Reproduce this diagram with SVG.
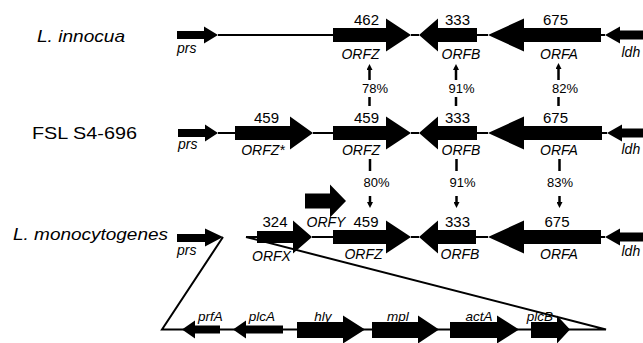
<svg xmlns="http://www.w3.org/2000/svg" width="643" height="343" viewBox="0 0 643 343">
<style>
.g{fill:#000;stroke:none}
.bb{stroke:#000;stroke-width:2;fill:none}
.pc{stroke:#000;stroke-width:2.5;fill:none}
.t{font-family:"Liberation Sans",Arial,sans-serif;fill:#000}
.sp{font-size:16.5px}
.num{font-size:15px;text-anchor:middle}
.lab{font-size:14px;font-style:italic;text-anchor:middle}
.labl{font-size:14px;font-style:italic}
.pct{font-size:13px;text-anchor:middle}
.bl{font-size:13.5px;font-style:italic;text-anchor:middle}
</style>
<defs>
<marker id="ah" markerUnits="userSpaceOnUse" markerWidth="6" markerHeight="6" refX="3" refY="3" orient="auto">
<path d="M0,0 L6,3 L0,6 Z" fill="#000"/>
</marker>
</defs>
<rect width="643" height="343" fill="#fff"/>

<!-- species labels -->
<text class="t sp" x="37" y="42" font-style="italic" textLength="88" lengthAdjust="spacingAndGlyphs">L. innocua</text>
<text class="t sp" x="32" y="139" textLength="105" lengthAdjust="spacingAndGlyphs">FSL S4-696</text>
<text class="t sp" x="13" y="240" font-style="italic" textLength="155" lengthAdjust="spacingAndGlyphs">L. monocytogenes</text>

<!-- connectors -->
<g id="connectors">
<line class="bb" x1="218" y1="35" x2="333" y2="35"/>
<line class="bb" x1="411" y1="35" x2="419" y2="35"/>
<line class="bb" x1="477" y1="35" x2="488" y2="35"/>
<line class="bb" x1="601" y1="35" x2="605" y2="35"/>
<line class="bb" x1="218" y1="133" x2="235" y2="133"/>
<line class="bb" x1="313" y1="133" x2="333" y2="133"/>
<line class="bb" x1="411" y1="133" x2="419" y2="133"/>
<line class="bb" x1="477" y1="133" x2="488" y2="133"/>
<line class="bb" x1="602" y1="133" x2="607" y2="133"/>
<line class="bb" x1="246" y1="237" x2="257" y2="237"/>
<line class="bb" x1="312" y1="237" x2="333" y2="237"/>
<line class="bb" x1="411" y1="237" x2="419" y2="237"/>
<line class="bb" x1="476" y1="237" x2="488" y2="237"/>
<line class="bb" x1="601" y1="237" x2="605" y2="237"/>
<polyline class="bb" points="223,237 162,329.5 606,329.5 246,237"/>
<!-- similarity arrows row1-row2 -->
<line class="pc" x1="369.5" y1="80" x2="369.5" y2="67" marker-end="url(#ah)"/>
<line class="pc" x1="369.5" y1="97" x2="369.5" y2="106"/>
<line class="pc" x1="456" y1="80" x2="456" y2="67" marker-end="url(#ah)"/>
<line class="pc" x1="456" y1="97" x2="456" y2="106"/>
<line class="pc" x1="558.5" y1="80" x2="558.5" y2="66" marker-end="url(#ah)"/>
<line class="pc" x1="558.5" y1="97" x2="558.5" y2="106"/>
<!-- similarity arrows row2-row3 -->
<line class="pc" x1="370" y1="159" x2="370" y2="171"/>
<line class="pc" x1="370" y1="196" x2="370" y2="205" marker-end="url(#ah)"/>
<line class="pc" x1="456.5" y1="159" x2="456.5" y2="171"/>
<line class="pc" x1="456.5" y1="196" x2="456.5" y2="205" marker-end="url(#ah)"/>
<line class="pc" x1="559.5" y1="159" x2="559.5" y2="171"/>
<line class="pc" x1="559.5" y1="196" x2="559.5" y2="205" marker-end="url(#ah)"/>
</g>
<text class="t pct" x="375" y="92.5">78%</text>
<text class="t pct" x="461.5" y="92.5">91%</text>
<text class="t pct" x="565" y="92.5">82%</text>
<text class="t pct" x="376.5" y="187">80%</text>
<text class="t pct" x="462.5" y="187">91%</text>
<text class="t pct" x="560" y="187">83%</text>

<!-- Row 1: L. innocua -->
<g id="r1-prs"><polygon class="g" points="177,31 204,31 204,26.5 218,35 204,43.5 204,39 177,39"/><text class="t labl" x="177" y="53">prs</text></g>
<g id="r1-orfz"><polygon class="g" points="333,28 386,28 386,18.5 411,35 386,51.5 386,42 333,42"/><text class="t num" x="366.5" y="25">462</text><text class="t lab" x="360.5" y="59">ORFZ</text></g>
<g id="r1-orfb"><polygon class="g" points="477,28 438,28 438,18.5 419,35 438,51.5 438,42 477,42"/><text class="t num" x="457.5" y="25">333</text><text class="t lab" x="461" y="59">ORFB</text></g>
<g id="r1-orfa"><polygon class="g" points="601,28 524,28 524,18.5 488,35 524,51.5 524,42 601,42"/><text class="t num" x="555.5" y="25">675</text><text class="t lab" x="559" y="59">ORFA</text></g>
<g id="r1-ldh"><polygon class="g" points="650,30.5 620,30.5 620,26.5 605,35 620,43.5 620,39.5 650,39.5"/><text class="t labl" x="621.5" y="57">ldh</text></g>

<!-- Row 2: FSL S4-696 -->
<g id="r2-prs"><polygon class="g" points="178,129 205,129 205,124.5 218,133 205,141.5 205,137 178,137"/><text class="t labl" x="178" y="149">prs</text></g>
<g id="r2-orfzs"><polygon class="g" points="235,126 290,126 290,116.5 313,133 290,149.5 290,140 235,140"/><text class="t num" x="266.5" y="123">459</text><text class="t lab" x="263" y="155">ORFZ*</text></g>
<g id="r2-orfz"><polygon class="g" points="333,126 386,126 386,116.5 411,133 386,149.5 386,140 333,140"/><text class="t num" x="366.5" y="123">459</text><text class="t lab" x="361" y="155">ORFZ</text></g>
<g id="r2-orfb"><polygon class="g" points="477,126 438,126 438,116.5 419,133 438,149.5 438,140 477,140"/><text class="t num" x="457.5" y="123">333</text><text class="t lab" x="461" y="155">ORFB</text></g>
<g id="r2-orfa"><polygon class="g" points="602,126 524,126 524,116.5 488,133 524,149.5 524,140 602,140"/><text class="t num" x="555.5" y="123">675</text><text class="t lab" x="559" y="155">ORFA</text></g>
<g id="r2-ldh"><polygon class="g" points="650,128.5 622,128.5 622,124.5 607,133 622,141.5 622,137.5 650,137.5"/><text class="t labl" x="621.5" y="154">ldh</text></g>

<!-- Row 3: L. monocytogenes -->
<g id="r3-prs"><polygon class="g" points="177,234 205,234 205,228.5 223,237 205,246.5 205,242 177,242"/><text class="t labl" x="177" y="255">prs</text></g>
<g id="r3-orfx"><polygon class="g" points="257,231 293,231 293,220.5 312,237 293,253.5 293,243 257,243"/><text class="t num" x="275" y="227">324</text><text class="t lab" x="271.5" y="261">ORFX</text></g>
<g id="r3-orfy"><polygon class="g" points="305,193.5 330,193.5 330,184.5 346,201 330,217.5 330,208.5 305,208.5"/><text class="t lab" x="326" y="227">ORFY</text></g>
<g id="r3-orfz"><polygon class="g" points="333,230 386,230 386,220.5 411,237 386,253.5 386,244 333,244"/><text class="t num" x="366" y="227">459</text><text class="t lab" x="363.5" y="259">ORFZ</text></g>
<g id="r3-orfb"><polygon class="g" points="476,230 438,230 438,220.5 419,237 438,253.5 438,244 476,244"/><text class="t num" x="457.5" y="227">333</text><text class="t lab" x="460" y="259">ORFB</text></g>
<g id="r3-orfa"><polygon class="g" points="601,230 524,230 524,220.5 488,237 524,253.5 524,244 601,244"/><text class="t num" x="557" y="227">675</text><text class="t lab" x="559" y="259">ORFA</text></g>
<g id="r3-ldh"><polygon class="g" points="650,232.5 620,232.5 620,228.5 605,237 620,245.5 620,241.5 650,241.5"/><text class="t labl" x="621.5" y="256">ldh</text></g>

<!-- Bottom: virulence cluster -->
<g id="prfA"><polygon class="g" points="220,325.5 195,325.5 195,320.5 182,329.5 195,338.5 195,333.5 220,333.5"/><text class="t bl" x="210.5" y="321">prfA</text></g>
<g id="plcA"><polygon class="g" points="283,325.5 246,325.5 246,320.5 233,329.5 246,338.5 246,333.5 283,333.5"/><text class="t bl" x="262" y="321">plcA</text></g>
<g id="hly"><polygon class="g" points="297,322 343,322 343,315.5 365,329.5 343,343.5 343,338 297,338"/><text class="t bl" x="323" y="321">hly</text></g>
<g id="mpl"><polygon class="g" points="372,322 418,322 418,315.5 439,329.5 418,343.5 418,338 372,338"/><text class="t bl" x="398" y="321">mpl</text></g>
<g id="actA"><polygon class="g" points="450,322 497,322 497,315.5 519,329.5 497,343.5 497,338 450,338"/><text class="t bl" x="479" y="321">actA</text></g>
<g id="plcB"><polygon class="g" points="531,322 557,322 557,315.5 570,329.5 557,343.5 557,338 531,338"/><text class="t bl" x="540" y="321">plcB</text></g>
</svg>
